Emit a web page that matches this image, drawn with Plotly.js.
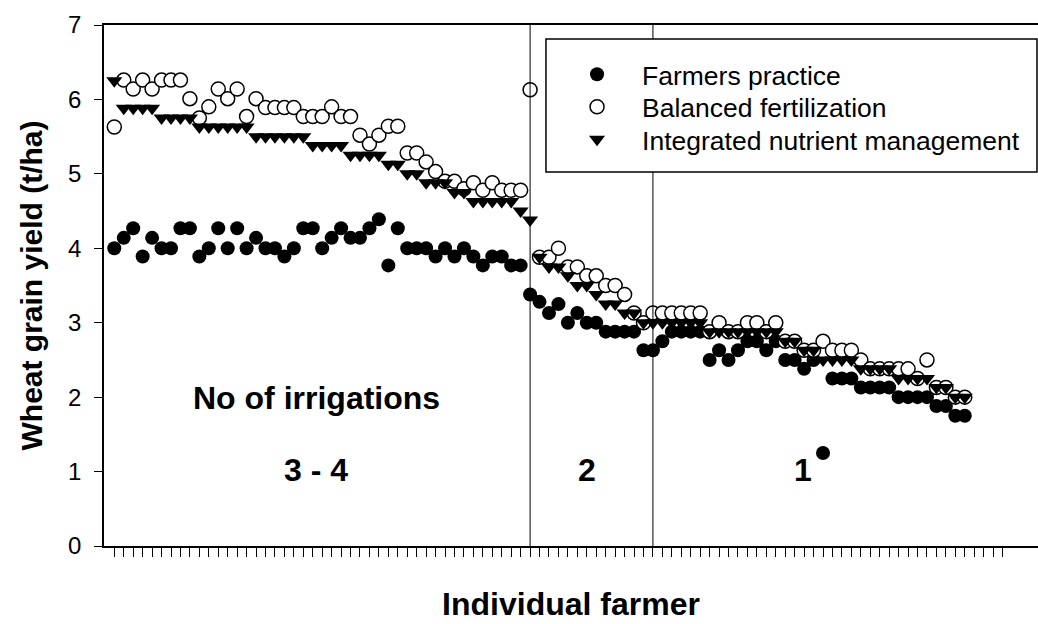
<!DOCTYPE html>
<html>
<head>
<meta charset="utf-8">
<script src="https://cdn.plot.ly/plotly-3.0.1.min.js"></script>
<style>
  html, body { margin: 0; padding: 0; background: #fff; overflow: hidden; }
  #chart { width: 1038px; height: 624px; }
</style>
</head>
<body>
<div id="chart"></div>
<script>
// Farmer index (1..91) and tick positions (1..95)
const farmerIds = Array.from({length: 91}, (_, i) => i + 1);
const tickPositions = Array.from({length: 95}, (_, i) => i + 1);

// Wheat grain yield (t/ha)
const farmersPractice = [
  4.0, 4.14, 4.27, 3.89, 4.14, 4.0, 4.0, 4.27, 4.27, 3.89,
  4.0, 4.27, 4.0, 4.27, 4.0, 4.14, 4.0, 4.0, 3.89, 4.0,
  4.27, 4.27, 4.0, 4.14, 4.27, 4.14, 4.14, 4.27, 4.39, 3.77,
  4.27, 4.0, 4.0, 4.0, 3.89, 4.0, 3.89, 4.0, 3.89, 3.77,
  3.89, 3.89, 3.77, 3.77, 3.38, 3.28, 3.13, 3.25, 3.0, 3.13,
  3.0, 3.0, 2.88, 2.88, 2.88, 2.88, 2.63, 2.63, 2.75, 2.88,
  2.88, 2.88, 2.88, 2.5, 2.63, 2.5, 2.63, 2.75, 2.75, 2.63,
  2.75, 2.5, 2.5, 2.38, 2.5, 1.25, 2.25, 2.25, 2.25, 2.13,
  2.13, 2.13, 2.13, 2.0, 2.0, 2.0, 2.0, 1.88, 1.88, 1.75,
  1.75
];
const balancedFertilization = [
  5.63, 6.26, 6.14, 6.26, 6.14, 6.26, 6.26, 6.26, 6.01, 5.75,
  5.9, 6.14, 6.01, 6.14, 5.77, 6.01, 5.89, 5.89, 5.89, 5.89,
  5.77, 5.77, 5.77, 5.9, 5.77, 5.77, 5.52, 5.4, 5.52, 5.64,
  5.64, 5.28, 5.28, 5.16, 5.03, 4.9, 4.9, 4.8, 4.88, 4.78,
  4.88, 4.78, 4.78, 4.78, 6.13, 3.88, 3.88, 4.0, 3.75, 3.75,
  3.63, 3.63, 3.5, 3.5, 3.38, 3.13, 3.0, 3.13, 3.13, 3.13,
  3.13, 3.13, 3.13, 2.88, 3.0, 2.88, 2.88, 3.0, 3.0, 2.88,
  3.0, 2.75, 2.75, 2.63, 2.63, 2.75, 2.63, 2.63, 2.63, 2.5,
  2.38, 2.38, 2.38, 2.38, 2.38, 2.25, 2.5, 2.13, 2.13, 2.0,
  2.0
];
const integratedNutrient = [
  6.25, 5.88, 5.88, 5.88, 5.88, 5.75, 5.75, 5.75, 5.75, 5.63,
  5.63, 5.63, 5.63, 5.63, 5.63, 5.5, 5.5, 5.5, 5.5, 5.5,
  5.5, 5.38, 5.38, 5.38, 5.38, 5.25, 5.25, 5.25, 5.25, 5.13,
  5.13, 5.0, 5.0, 4.88, 4.88, 4.88, 4.75, 4.75, 4.63, 4.63,
  4.63, 4.63, 4.63, 4.5, 4.38, 3.88, 3.75, 3.75, 3.63, 3.5,
  3.5, 3.38, 3.25, 3.25, 3.13, 3.13, 3.0, 3.0, 3.0, 3.0,
  3.0, 3.0, 3.0, 2.88, 2.88, 2.88, 2.88, 2.88, 2.88, 2.88,
  2.88, 2.75, 2.75, 2.63, 2.63, 2.5, 2.5, 2.5, 2.5, 2.38,
  2.38, 2.38, 2.38, 2.25, 2.25, 2.25, 2.25, 2.13, 2.13, 2.0,
  2.0
];

const seriesNames = ['Farmers practice', 'Balanced fertilization', 'Integrated nutrient management'];
const yTicks = [0, 1, 2, 3, 4, 5, 6, 7];
// Irrigation-group boundaries (farmer index) and group labels
const groupBoundaries = [45, 58];
const groupLabels = ['3 - 4', '2', '1'];
const groupLabelX = [22.35, 51.0, 73.9];
const headingText = 'No of irrigations';

const FONT = 'Liberation Sans, Arial, Helvetica, sans-serif';

const traces = [
  {
    x: farmerIds, y: farmersPractice, name: seriesNames[0], legend: 'legend',
    type: 'scatter', mode: 'markers', cliponaxis: false,
    marker: {symbol: 'circle', size: 14, color: '#000', line: {width: 0}}
  },
  {
    x: farmerIds, y: balancedFertilization, name: seriesNames[1], legend: 'legend2',
    type: 'scatter', mode: 'markers', cliponaxis: false,
    marker: {symbol: 'circle', size: 14, color: '#fff', line: {width: 1.5, color: '#000'}}
  },
  {
    x: farmerIds, y: integratedNutrient, name: seriesNames[2], legend: 'legend3',
    type: 'scatter', mode: 'markers', cliponaxis: false,
    marker: {symbol: 'triangle-down', size: 14, color: '#000', line: {width: 0}}
  }
];

const shapes = groupBoundaries.map(b => ({
  type: 'line', xref: 'x', yref: 'y', x0: b, x1: b, y0: 0, y1: 7,
  line: {color: '#000', width: 1}, layer: 'above'
}));
// legend frame
shapes.push({
  type: 'rect', xref: 'paper', yref: 'paper',
  x0: 0.4732, x1: 0.9989, y0: 0.7178, y1: 0.9731,
  line: {color: '#000', width: 1.5}, fillcolor: '#fff', layer: 'above'
});

const annotations = [
  {text: '<b>' + headingText + '</b>', x: 22.45, y: 1.99, xref: 'x', yref: 'y',
   showarrow: false, font: {family: FONT, size: 32, color: '#000'}}
].concat(groupLabels.map((t, i) => ({
  text: '<b>' + t + '</b>', x: groupLabelX[i], y: 1.02, xref: 'x', yref: 'y',
  showarrow: false, font: {family: FONT, size: 32, color: '#000'}
})));

function legendAt(yPaper) {
  return {
    x: 0.4797, y: yPaper, xanchor: 'left', yanchor: 'top',
    bgcolor: 'rgba(0,0,0,0)', borderwidth: 0,
    font: {family: FONT, size: 26.5, color: '#000'},
    itemwidth: 80
  };
}

const layout = {
  width: 1038, height: 624,
  margin: {l: 104, r: 0, t: 25, b: 78, pad: 0},
  paper_bgcolor: '#fff', plot_bgcolor: '#fff',
  font: {family: FONT, color: '#000'},
  showlegend: true,
  legend: legendAt(0.951),
  legend2: legendAt(0.8887),
  legend3: legendAt(0.8263),
  xaxis: {
    range: [-0.09, 98.75], showgrid: false, zeroline: false,
    showline: true, linecolor: '#000', linewidth: 1.5, mirror: true,
    ticks: 'outside', ticklen: 9, tickwidth: 1.3, tickcolor: '#000',
    tickmode: 'array', tickvals: tickPositions, showticklabels: false,
    title: {text: '<b>Individual farmer</b>', font: {family: FONT, size: 32, color: '#000'}, standoff: 37}
  },
  yaxis: {
    range: [0, 7], showgrid: false, zeroline: false,
    showline: true, linecolor: '#000', linewidth: 1.5,
    ticks: 'outside', ticklen: 8, tickwidth: 1.3, tickcolor: '#000',
    tickmode: 'array', tickvals: yTicks, ticktext: yTicks.map(String),
    tickfont: {family: FONT, size: 24, color: '#000'},
    ticklabelstandoff: 8,
    title: {text: '<b>Wheat grain yield (t/ha)</b>', font: {family: FONT, size: 30, color: '#000'}, standoff: 17}
  },
  shapes: shapes,
  annotations: annotations
};

Plotly.newPlot('chart', traces, layout, {displayModeBar: false, responsive: false});
</script>
</body>
</html>
